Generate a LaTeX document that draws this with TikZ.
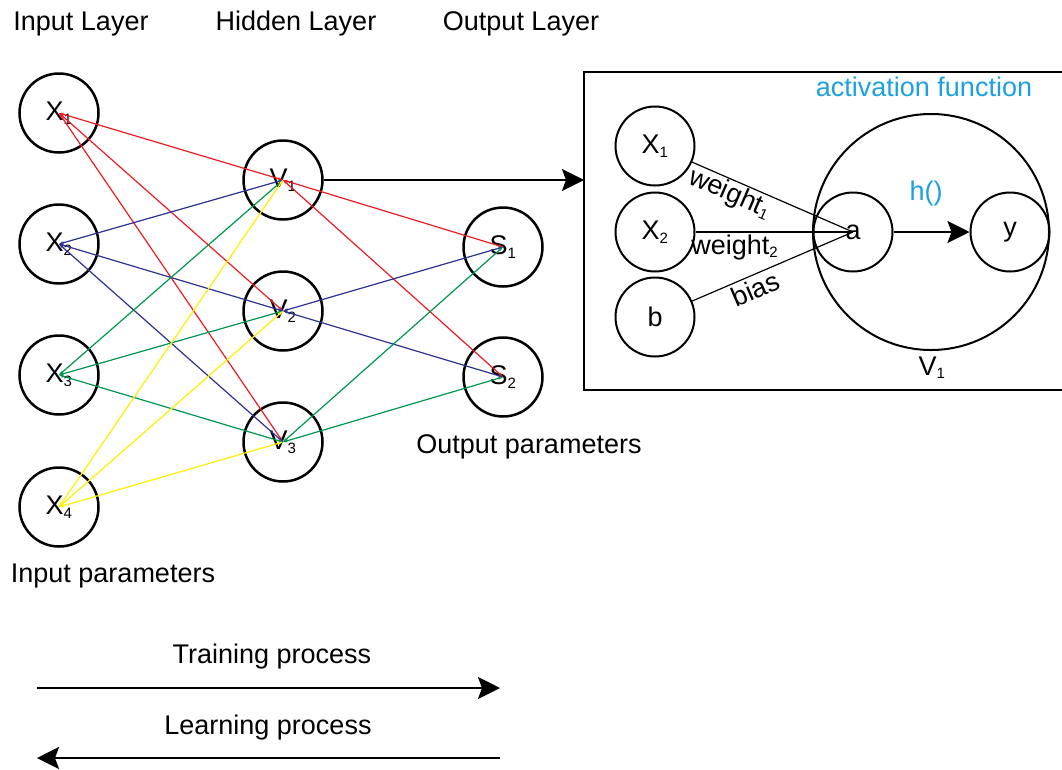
\documentclass[tikz,border=0pt]{standalone}
\usepackage{fontspec}
\setmainfont{Liberation Sans}
\usetikzlibrary{arrows.meta}

\definecolor{wred}{RGB}{237,28,36}
\definecolor{wblue}{RGB}{46,49,146}
\definecolor{wgreen}{RGB}{0,150,80}
\definecolor{wyellow}{RGB}{255,240,0}
\definecolor{actblue}{RGB}{27,161,226}

% small index under a letter
\newcommand{\idx}[1]{\textsubscript{\fontsize{15}{16}\selectfont #1}}

\begin{document}
\begin{tikzpicture}[x=1pt, y=-1pt, font=\fontsize{27}{32}\selectfont]
    \tikzset{neuron/.style={circle, draw, line width=2.5pt, minimum size=79pt, inner sep=0pt},
             unit/.style={circle, draw, line width=2pt, minimum size=79pt, inner sep=0pt},
             wire/.style={line width=1.2pt, {Stealth[length=5pt,width=3pt]}-{Stealth[length=5pt,width=3pt]}},
             bigarrow/.style={line width=2.5pt, -{Stealth[length=22pt,width=22pt,inset=4pt]}}}
    \useasboundingbox (0,0) rectangle (1062,769);
    % layers
    \foreach \i/\y in {1/113,2/244,3/375,4/507} \node[neuron] (X\i) at (59,\y) {X\idx{\i}};
    \foreach \i/\y in {1/180,2/311,3/442} \node[neuron] (V\i) at (283,\y) {V\idx{\i}};
    \foreach \i/\y in {1/247,2/377} \node[neuron] (S\i) at (503,\y) {S\idx{\i}};
    \foreach \a/\c in {1/wred,2/wblue,3/wgreen,4/wyellow}
      \foreach \b in {1,2,3} \draw[wire, \c] (X\a.center) -- (V\b.center);
    \foreach \a/\c in {1/wred,2/wblue,3/wgreen}
      \foreach \b in {1,2} \draw[wire, \c] (V\a.center) -- (S\b.center);
    \node[anchor=base] (inlayer) at (81,30) {Input Layer};
    \node[anchor=base] (hidlayer) at (296,30) {Hidden Layer};
    \node[anchor=base] (outlayer) at (521,30) {Output Layer};
    \node[anchor=base] (inparam) at (113,582) {Input parameters};
    \node[anchor=base] (outparam) at (529,453) {Output parameters};
    % zoom on V1
    \draw[line width=2.5pt] (1064,72) -- (584,72) -- (584,390) -- (1064,390);
    \coordinate (boxin) at (584,180);
    \draw[bigarrow] (V1) -- (boxin);
    \node[unit] (bX1) at (655,146) {X\idx{1}};
    \node[unit] (bX2) at (655,232) {X\idx{2}};
    \node[unit] (bb) at (655,317) {b};
    \node[unit, minimum size=236pt] (bV1) at (931,232) {};
    \node[unit] (ba) at (853,232) {a};
    \node[unit] (by) at (1010,232) {y};
    \draw[line width=1.2pt] (bX1) -- (ba.center) node[pos=0.27, sloped, below, inner sep=1pt] (w1) {weight\idx{1}};
    \draw[line width=1.2pt] (bX2) -- (ba.center) node[pos=0.25, below, inner sep=2pt] (w2) {weight\idx{2}};
    \draw[line width=1.2pt] (bb) -- (ba.center) node[pos=0.36, sloped, below] (bias) {bias};
    \draw[bigarrow] (ba) -- (by);
    \node[anchor=base, text=actblue] (hfun) at (926,200) {h()};
    \node[anchor=base, text=actblue] (actfun) at (924,96) {activation function};
    \node[anchor=base] (v1lbl) at (932,375) {V\idx{1}};
    % process arrows
    \coordinate (tl) at (37,688);
    \coordinate (tr) at (500,688);
    \coordinate (ll) at (37,758);
    \coordinate (lr) at (500,758);
    \draw[bigarrow] (tl) -- (tr);
    \draw[bigarrow] (lr) -- (ll);
    \node[anchor=base] (train) at (272,663) {Training process};
    \node[anchor=base] (learn) at (268,734) {Learning process};
\end{tikzpicture}
\end{document}
